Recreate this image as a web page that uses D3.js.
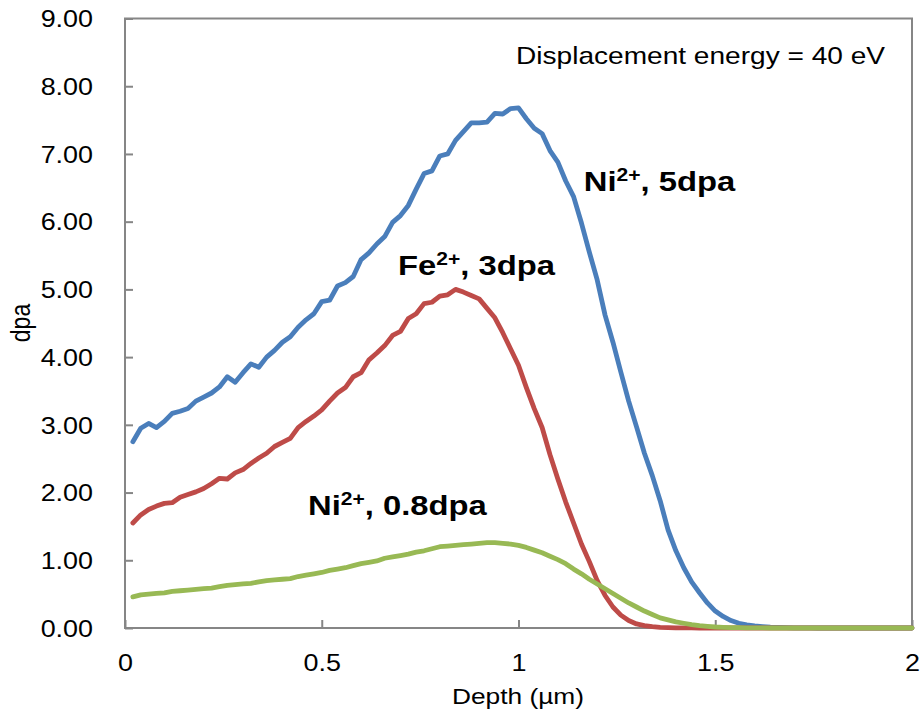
<!DOCTYPE html>
<html>
<head>
<meta charset="utf-8">
<script src="https://cdn.jsdelivr.net/npm/d3@7"></script>
<style>
  html, body { margin: 0; padding: 0; background: #fff; }
  svg { display: block; font-family: "Liberation Sans", Arial, sans-serif; }
</style>
</head>
<body>
<svg id="chart" width="924" height="720"></svg>
<script>
// Depth bins (µm)
const depth = [
  0.02,0.04,0.06,0.08,0.10,0.12,0.14,0.16,0.18,0.20,
  0.22,0.24,0.26,0.28,0.30,0.32,0.34,0.36,0.38,0.40,
  0.42,0.44,0.46,0.48,0.50,0.52,0.54,0.56,0.58,0.60,
  0.62,0.64,0.66,0.68,0.70,0.72,0.74,0.76,0.78,0.80,
  0.82,0.84,0.86,0.88,0.90,0.92,0.94,0.96,0.98,1.00,
  1.02,1.04,1.06,1.08,1.10,1.12,1.14,1.16,1.18,1.20,
  1.22,1.24,1.26,1.28,1.30,1.32,1.34,1.36,1.38,1.40,
  1.42,1.44,1.46,1.48,1.50,1.52,1.54,1.56,1.58,1.60,
  1.62,1.64,1.66,1.68,1.70,1.72,1.74,1.76,1.78,1.80,
  1.82,1.84,1.86,1.88,1.90,1.92,1.94,1.96,1.98,2.00
];

// Ni2+, 5 dpa
const ni5dpa = [
  2.75,2.95,3.02,2.96,3.05,3.17,3.20,3.24,3.35,3.41,
  3.47,3.56,3.71,3.63,3.77,3.90,3.85,4.00,4.10,4.22,
  4.30,4.44,4.55,4.64,4.82,4.84,5.05,5.10,5.19,5.44,
  5.54,5.67,5.78,5.99,6.09,6.24,6.48,6.71,6.75,6.97,
  7.00,7.20,7.33,7.46,7.46,7.47,7.60,7.59,7.67,7.68,
  7.52,7.38,7.30,7.05,6.88,6.60,6.37,5.98,5.55,5.14,
  4.62,4.22,3.78,3.35,2.97,2.58,2.25,1.88,1.45,1.14,
  0.89,0.68,0.52,0.37,0.25,0.17,0.11,0.07,0.045,0.03,
  0.02,0.012,0.008,0.005,0.003,0.002,0.001,0,0,0,
  0,0,0,0,0,0,0,0,0,0
];

// Fe2+, 3 dpa
const fe3dpa = [
  1.55,1.67,1.75,1.80,1.84,1.85,1.93,1.97,2.01,2.06,
  2.13,2.21,2.20,2.29,2.34,2.43,2.51,2.58,2.68,2.74,
  2.80,2.96,3.05,3.13,3.22,3.35,3.47,3.55,3.71,3.77,
  3.96,4.06,4.17,4.32,4.38,4.57,4.64,4.79,4.81,4.90,
  4.92,5.00,4.96,4.91,4.86,4.72,4.58,4.36,4.12,3.88,
  3.55,3.24,2.96,2.56,2.20,1.86,1.55,1.24,0.98,0.70,
  0.48,0.31,0.19,0.11,0.06,0.035,0.02,0.01,0.006,0.003,
  0.002,0.001,0,0,0,0,0,0,0,0,
  0,0,0,0,0,0,0,0,0,0,
  0,0,0,0,0,0,0,0,0,0
];

// Ni2+, 0.8 dpa
const ni08dpa = [
  0.46,0.49,0.50,0.51,0.52,0.54,0.55,0.56,0.57,0.58,
  0.59,0.61,0.63,0.64,0.65,0.66,0.68,0.70,0.71,0.72,
  0.73,0.76,0.78,0.80,0.82,0.85,0.87,0.89,0.92,0.95,
  0.97,0.99,1.03,1.05,1.07,1.09,1.12,1.14,1.17,1.20,
  1.21,1.22,1.23,1.24,1.25,1.26,1.26,1.25,1.24,1.22,
  1.19,1.15,1.11,1.06,1.01,0.95,0.87,0.80,0.72,0.65,
  0.58,0.51,0.44,0.37,0.31,0.25,0.20,0.15,0.12,0.09,
  0.07,0.05,0.035,0.025,0.015,0.01,0.007,0.005,0.003,0.002,
  0.001,0,0,0,0,0,0,0,0,0,
  0,0,0,0,0,0,0,0,0,0
];

const xTicks = [0, 0.5, 1, 1.5, 2];
const yTicks = [0,1,2,3,4,5,6,7,8,9];

const seriesList = [
  { name: "Ni2+, 5dpa",   values: ni5dpa,  color: "#4a7ebb" },
  { name: "Fe2+, 3dpa",   values: fe3dpa,  color: "#be4b48" },
  { name: "Ni2+, 0.8dpa", values: ni08dpa, color: "#98b954" }
];

// Bold annotations: ion, charge (superscript), rest; position in data units
const annotations = [
  { ion: "Ni", charge: "2+", rest: ", 5dpa",   x: 1.166, y: 6.46 },
  { ion: "Fe", charge: "2+", rest: ", 3dpa",   x: 0.694, y: 5.21 },
  { ion: "Ni", charge: "2+", rest: ", 0.8dpa", x: 0.465, y: 1.67 }
];

const svg = d3.select("#chart");
const plotL = 125, plotR = 912, plotT = 18.5, plotB = 628;
const sx = 1.17; // horizontal stretch of the text glyphs

const x = d3.scaleLinear().domain([0, 2]).range([plotL, plotR]);
const y = d3.scaleLinear().domain([0, 9]).range([plotB, plotT]);

const axisColor = "#868686";

// Plot frame
svg.append("rect")
  .attr("x", plotL).attr("y", plotT)
  .attr("width", plotR - plotL).attr("height", plotB - plotT)
  .attr("fill", "none").attr("stroke", axisColor).attr("stroke-width", 2);

// Y axis: inward ticks, labels on the left
const yAxis = d3.axisLeft(y).tickValues(yTicks).tickSize(-8).tickPadding(0)
  .tickFormat(d3.format(".2f"));
const gy = svg.append("g").attr("transform", `translate(${plotL},0)`).call(yAxis);
gy.select(".domain").remove();
gy.selectAll(".tick line").attr("stroke", axisColor).attr("stroke-width", 2);
gy.selectAll(".tick text").remove();
gy.selectAll(".tick").append("text")
  .attr("text-anchor", "end").attr("dominant-baseline", "central")
  .attr("fill", "#000").attr("font-size", 23)
  .attr("transform", `translate(-32,0) scale(${sx},1)`)
  .text(d => d3.format(".2f")(d));

// X axis: inward ticks, labels below
const xAxis = d3.axisBottom(x).tickValues(xTicks).tickSize(-8).tickFormat(d3.format("~g"));
const gx = svg.append("g").attr("transform", `translate(0,${plotB})`).call(xAxis);
gx.select(".domain").remove();
gx.selectAll(".tick line").attr("stroke", axisColor).attr("stroke-width", 2);
gx.selectAll(".tick text").remove();
gx.selectAll(".tick").append("text")
  .attr("text-anchor", "middle").attr("fill", "#000").attr("font-size", 23)
  .attr("transform", `translate(0,43) scale(${sx},1)`)
  .text(d => d3.format("~g")(d));

// Axis titles
svg.append("text")
  .attr("transform", `translate(518,704) scale(${sx},1)`)
  .attr("text-anchor", "middle").attr("font-size", 22.5).attr("fill", "#000")
  .text("Depth (µm)");
svg.append("text")
  .attr("transform", `translate(30,323) rotate(-90) scale(1,${sx})`)
  .attr("text-anchor", "middle").attr("font-size", 23).attr("fill", "#000")
  .text("dpa");

// Curves
const line = d3.line()
  .x((d, i) => x(depth[i]))
  .y(d => y(d))
  .curve(d3.curveLinear);

svg.append("g").selectAll("path")
  .data(seriesList)
  .join("path")
  .attr("d", s => line(s.values))
  .attr("fill", "none")
  .attr("stroke", s => s.color)
  .attr("stroke-width", 4.8)
  .attr("stroke-linejoin", "round")
  .attr("stroke-linecap", "round");

// Note in the upper right
svg.append("text")
  .attr("transform", `translate(516,64) scale(${sx},1)`)
  .attr("font-size", 24).attr("fill", "#000")
  .text("Displacement energy = 40 eV");

// Series labels
annotations.forEach(a => {
  const t = svg.append("text")
    .attr("transform", `translate(${x(a.x)},${y(a.y)}) scale(${sx},1)`)
    .attr("font-size", 28).attr("font-weight", "bold").attr("fill", "#000");
  t.append("tspan").text(a.ion);
  t.append("tspan").attr("font-size", 18).attr("dy", -10).text(a.charge);
  t.append("tspan").attr("dy", 10).text(a.rest);
});
</script>
</body>
</html>
